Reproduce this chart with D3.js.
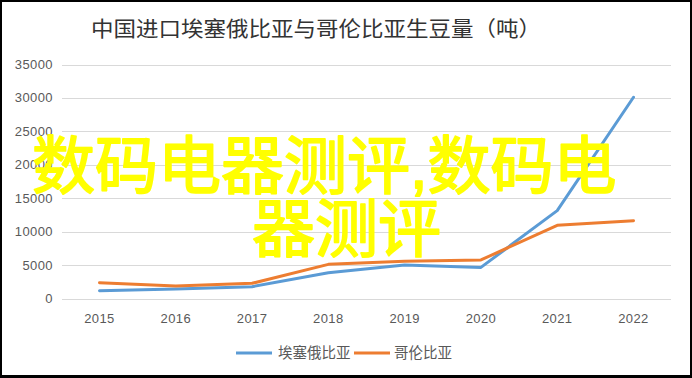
<!DOCTYPE html>
<html>
<head>
<meta charset="utf-8">
<title>生豆量</title>
<script src="https://d3js.org/d3.v7.min.js"></script>
<style>
  body { margin: 0; background: #fff; }
  svg text { font-family: "Liberation Sans", Arial, "Noto Sans CJK SC", sans-serif; }
</style>
</head>
<body>
<div id="chart"></div>
<script>
var years = ['2015', '2016', '2017', '2018', '2019', '2020', '2021', '2022'];
var ethiopia = [1170, 1420, 1770, 3860, 5010, 4650, 13150, 30100];
var colombia = [2360, 1870, 2270, 5110, 5560, 5760, 10950, 11640];
var yTicks = [0, 5000, 10000, 15000, 20000, 25000, 30000, 35000];
var seriesNames = ['埃塞俄比亚', '哥伦比亚'];
var colors = ['#5b9bd5', '#ed7d31'];

var w = 692, h = 378;
var svg = d3.select('#chart').append('svg')
    .attr('width', w).attr('height', h);

// black frame
svg.append('rect').attr('width', w).attr('height', h).attr('fill', '#000');
svg.append('rect').attr('x', 2).attr('y', 2)
    .attr('width', w - 4).attr('height', h - 5).attr('fill', '#fff');

var x = d3.scalePoint().domain(years).range([99.5, 633.5]);
var y = d3.scaleLinear().domain([0, 35000]).range([298.5, 64.5]);

// title
svg.append('text')
    .attr('x', 91).attr('y', 36)
    .attr('textLength', 450).attr('lengthAdjust', 'spacingAndGlyphs')
    .style('font-family', '"Noto Sans CJK SC", sans-serif')
    .style('font-size', '21px')
    .style('fill', '#333')
    .text('中国进口埃塞俄比亚与哥伦比亚生豆量（吨）');

// grid
svg.append('g').selectAll('line').data(yTicks).enter().append('line')
    .attr('x1', 62).attr('x2', 671)
    .attr('y1', function(d){ return Math.round(y(d)) + 0.5; })
    .attr('y2', function(d){ return Math.round(y(d)) + 0.5; })
    .style('stroke', '#d9d9d9').style('stroke-width', 1);

// y labels
svg.append('g').selectAll('text').data(yTicks).enter().append('text')
    .attr('x', 53).attr('y', function(d){ return y(d); })
    .attr('dy', '0.35em')
    .style('text-anchor', 'end')
    .style('font-size', '13px')
    .style('letter-spacing', '0.4px')
    .style('fill', '#595959')
    .text(function(d){ return d; });

// x labels
svg.append('g').selectAll('text').data(years).enter().append('text')
    .attr('x', function(d){ return x(d); }).attr('y', 323)
    .style('text-anchor', 'middle')
    .style('font-size', '13px')
    .style('letter-spacing', '0.4px')
    .style('fill', '#595959')
    .text(function(d){ return d; });

// lines
var line = d3.line()
    .x(function(d, i){ return x(years[i]); })
    .y(function(d){ return y(d); });

[ethiopia, colombia].forEach(function(s, i){
    svg.append('path')
        .datum(s)
        .attr('d', line)
        .style('fill', 'none')
        .style('stroke', colors[i])
        .style('stroke-width', 3)
        .style('stroke-linejoin', 'round')
        .style('stroke-linecap', 'round');
});

// legend
var legend = [{x: 236, tx: 278}, {x: 354, tx: 394}];
legend.forEach(function(l, i){
    svg.append('line')
        .attr('x1', l.x).attr('x2', l.x + 36)
        .attr('y1', 353).attr('y2', 353)
        .style('stroke', colors[i]).style('stroke-width', 3);
    svg.append('text')
        .attr('x', l.tx).attr('y', 358)
        .style('font-family', '"Noto Sans CJK SC", sans-serif')
        .style('font-size', '14.5px')
        .style('fill', '#595959')
        .text(seriesNames[i]);
});

// watermark
var wm = svg.append('g')
    .style('font-family', '"Noto Sans CJK SC", sans-serif')
    .style('font-size', '63px')
    .style('fill', '#ffff00')
    .style('stroke', '#ffff00')
    .style('stroke-width', 1.8)
    .style('stroke-linejoin', 'round');
wm.append('text').attr('x', 32).attr('y', 166).attr('dy', '0.35em')
    .text('数码电器测评,数码电');
wm.append('text').attr('x', 252).attr('y', 229).attr('dy', '0.35em')
    .text('器测评');
</script>
</body>
</html>
